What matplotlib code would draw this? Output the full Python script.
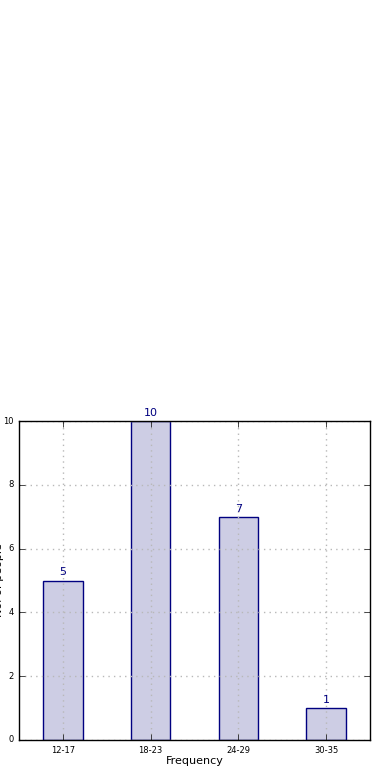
import matplotlib
matplotlib.use("Agg")
import matplotlib.pyplot as plt

age_groups = ["12-17", "18-23", "24-29", "30-35"]
counts = [5, 10, 7, 1]

plt.style.use("classic")
fig = plt.figure(figsize=(3.9, 7.8), dpi=100, facecolor="white")
ax = fig.add_axes([19 / 390, 1 - 740 / 780, 351 / 390, 319 / 780])

x = range(len(age_groups))
bars = ax.bar(x, counts, width=0.45, align="center",
              color="#cdcde4", edgecolor="navy", linewidth=1)

for rect, c in zip(bars, counts):
    ax.text(rect.get_x() + rect.get_width() / 2, rect.get_height() + 0.1, str(c),
            ha="center", va="bottom", color="navy", fontsize=8)

ax.set_xticks(list(x))
ax.set_xticklabels(age_groups)
ax.set_xlim(-0.5, 3.5)
ax.set_ylim(0, 10)
ax.tick_params(labelsize=6)
ax.grid(True, color="#b8b8b8", linestyle=":", linewidth=1, zorder=2)
for s in ax.spines.values():
    s.set_zorder(4)
ax.set_xlabel("Frequency", fontsize=8, labelpad=1)
ax.set_ylabel("No. of people", fontsize=8)
# label sits mostly off the left edge, like the original
ax.yaxis.set_label_coords(-0.043, 0.5)

fig.savefig("out.png", dpi=100, facecolor="white")
